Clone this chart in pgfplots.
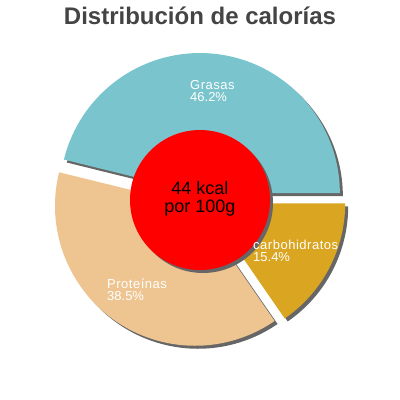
\documentclass[border=0pt]{standalone}
\usepackage{fontspec}
\setmainfont{Liberation Sans}
\newfontfamily\spaced[LetterSpace=4]{Liberation Sans}
\usepackage{pgfplots}
\pgfplotsset{compat=1.18}
\definecolor{grasas}{HTML}{7AC5CD}
\definecolor{prot}{HTML}{EEC591}
\definecolor{carb}{HTML}{DAA520}
\definecolor{shadowgray}{HTML}{666666}
\definecolor{titlegray}{HTML}{444444}

% one pie slice: start angle, end angle, colour, extra shift
\newcommand\slice[4]{%
  \fill[#3, shift={(#4)}, shift={({(#1+#2)/2}:7pt)}]
    (axis cs:199,200) -- ++(#1:140pt)
    arc[start angle=#1, end angle=#2, radius=140pt] -- cycle;}

\begin{document}
\begin{tikzpicture}
\def\vG{46.2}\def\vP{38.5}\def\vC{15.4}
\pgfmathsetmacro\tot{\vG+\vP+\vC}
\pgfmathsetmacro\aG{\vG/\tot*360}
\pgfmathsetmacro\aP{\aG+\vP/\tot*360}
\begin{axis}[hide axis, scale only axis, width=400pt, height=400pt,
  xmin=0, xmax=400, ymin=0, ymax=400, clip=false]
\path (axis cs:0,0) rectangle (axis cs:400,400);
% shadows
\slice{0}{\aG}{shadowgray}{3pt,-3pt}
\slice{\aG}{\aP}{shadowgray}{3pt,-3pt}
\slice{\aP}{360}{shadowgray}{3pt,-3pt}
% slices
\slice{0}{\aG}{grasas}{0pt,0pt}
\slice{\aG}{\aP}{prot}{0pt,0pt}
\slice{\aP}{360}{carb}{0pt,0pt}
% centre
\fill[shadowgray] (axis cs:203,197) circle[radius=70pt];
\fill[red] (axis cs:200,200) circle[radius=70pt];
\node[align=center, font=\fontsize{18}{18}\selectfont, inner sep=0]
  at (axis cs:200,201) {44 kcal\\por 100g};
% labels
\node[white, anchor=west, align=left, inner sep=0,
  font=\fontsize{13}{12}\selectfont] at (axis cs:190,309) {{\spaced Grasas}\\46.2\%};
\node[white, anchor=west, align=left, inner sep=0,
  font=\fontsize{13}{12}\selectfont] at (axis cs:253,149) {{\spaced carbohidratos}\\15.4\%};
\node[white, anchor=west, align=left, inner sep=0,
  font=\fontsize{13}{12}\selectfont] at (axis cs:107,110) {{\spaced Proteínas}\\38.5\%};
% title
\node[anchor=base, text=titlegray, inner sep=0,
  font=\bfseries\fontsize{24}{24}\selectfont] at (axis cs:200,375)
  {Distribución de calorías};
\end{axis}
\end{tikzpicture}
\end{document}
